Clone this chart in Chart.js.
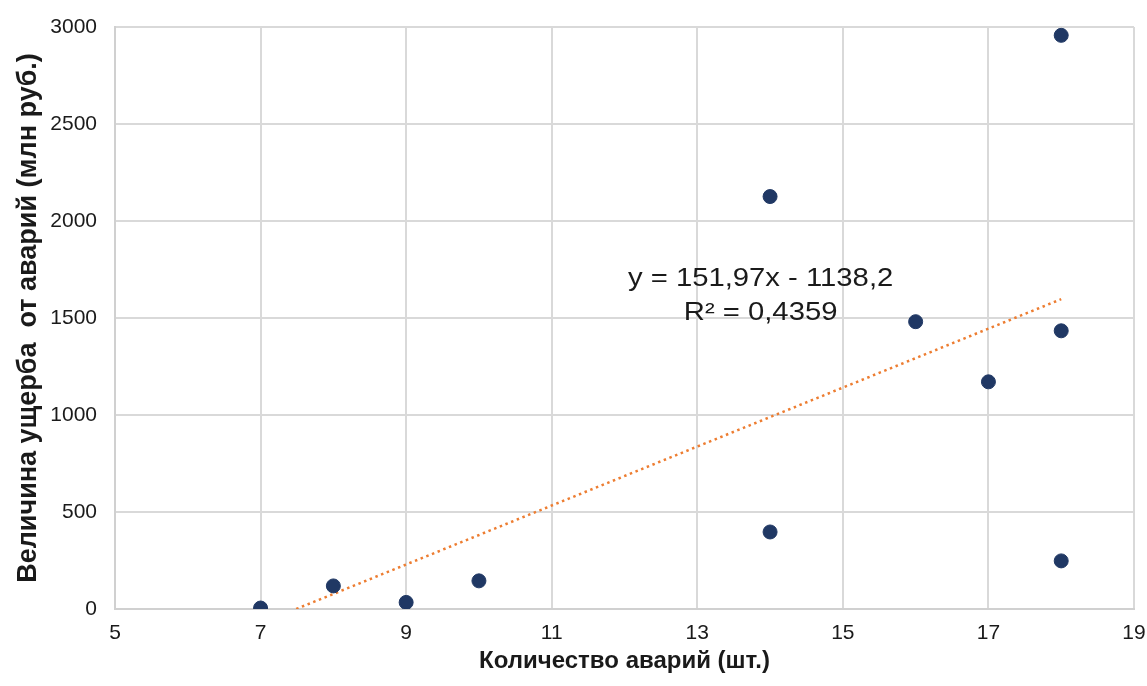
<!DOCTYPE html>
<html>
<head>
<meta charset="utf-8">
<script src="https://cdn.jsdelivr.net/npm/chart.js@4/dist/chart.umd.min.js"></script>
<style>
  html, body { margin: 0; padding: 0; background: #fff; }
  #wrap { width: 1147px; height: 686px; }
</style>
</head>
<body>
<div id="wrap"><canvas id="myCanvas"></canvas></div>
<script>
// accidents count vs damage (mln rub)
const accidents = [7, 8, 9, 10, 14, 14, 16, 17, 18, 18, 18];
const damage = [5, 119, 34, 145, 397, 2126, 1481, 1171, 1434, 248, 2957];

// trendline ends as drawn on the picture
const trendX = [7.49, 18];
const trendY = [0, 1597];

const equationText = ["y = 151,97x - 1138,2", "R² = 0,4359"];

const xTitle = "Количество аварий (шт.)";
const yTitle = "Величина ущерба  от аварий (млн руб.)";

const FONT = "'Liberation Sans', Arial, sans-serif";

// draws the regression equation label (Excel stretches it a bit wider)
const equationLabel = {
  id: "equationLabel",
  afterDatasetsDraw(chart) {
    const ctx = chart.ctx;
    const x = chart.scales.x;
    const y = chart.scales.y;
    const cx = x.getPixelForValue(13.87);
    const lines = [
      [equationText[0], y.getPixelForValue(1698)],
      [equationText[1], y.getPixelForValue(1527)],
    ];
    ctx.save();
    ctx.font = "25px " + FONT;
    ctx.fillStyle = "#1a1a1a";
    ctx.textAlign = "center";
    ctx.textBaseline = "middle";
    lines.forEach(([txt, py]) => {
      ctx.save();
      ctx.translate(cx, py);
      ctx.scale(1.17, 1);
      ctx.fillText(txt, 0, 0);
      ctx.restore();
    });
    ctx.restore();
  }
};

function createScatter() {
  const ctx = document.getElementById("myCanvas").getContext("2d");

  const points = accidents.map((a, i) => ({ x: a, y: damage[i] }));
  const trend = trendX.map((t, i) => ({ x: t, y: trendY[i] }));

  new Chart(ctx, {
    type: "scatter",
    data: {
      datasets: [
        {
          label: "trend",
          type: "line",
          data: trend,
          borderColor: "#ed7d31",
          borderWidth: 2.5,
          borderDash: [2.5, 3.6],
          pointRadius: 0,
          fill: false,
          order: 2,
        },
        {
          label: "data",
          data: points,
          backgroundColor: "#203864",
          borderColor: "#203864",
          pointRadius: 7,
          pointHoverRadius: 7,
          order: 1,
        },
      ],
    },
    options: {
      responsive: true,
      maintainAspectRatio: false,
      animation: false,
      layout: { padding: { top: 27, right: 13, left: 0, bottom: 0 } },
      plugins: {
        legend: { display: false },
        tooltip: { enabled: false },
      },
      scales: {
        x: {
          type: "linear",
          min: 5,
          max: 19,
          ticks: {
            stepSize: 2,
            color: "#1a1a1a",
            font: { family: FONT, size: 21 },
            padding: 12,
          },
          grid: { color: "#d9d9d9", lineWidth: 2, drawTicks: false },
          border: { color: "#d0d0d0", width: 2 },
          title: {
            display: true,
            text: xTitle,
            color: "#1a1a1a",
            font: { family: FONT, size: 24, weight: "bold" },
            padding: { top: 4, bottom: 10 },
          },
          afterFit(scale) {
            scale.height = 77;
            scale.paddingLeft = 0;
            scale.paddingRight = 0;
          },
        },
        y: {
          min: 0,
          max: 3000,
          ticks: {
            stepSize: 500,
            color: "#1a1a1a",
            font: { family: FONT, size: 21 },
            padding: 18,
            callback: (v) => String(v),
          },
          grid: { color: "#d9d9d9", lineWidth: 2, drawTicks: false },
          border: { color: "#d0d0d0", width: 2 },
          title: {
            display: true,
            text: yTitle,
            color: "#1a1a1a",
            font: { family: FONT, size: 27, weight: "bold" },
            padding: { top: 12, bottom: 0 },
          },
          afterFit(scale) {
            scale.width = 115;
            scale.paddingTop = 0;
            scale.paddingBottom = 0;
          },
        },
      },
    },
    plugins: [equationLabel],
  });
}

createScatter();
</script>
</body>
</html>
